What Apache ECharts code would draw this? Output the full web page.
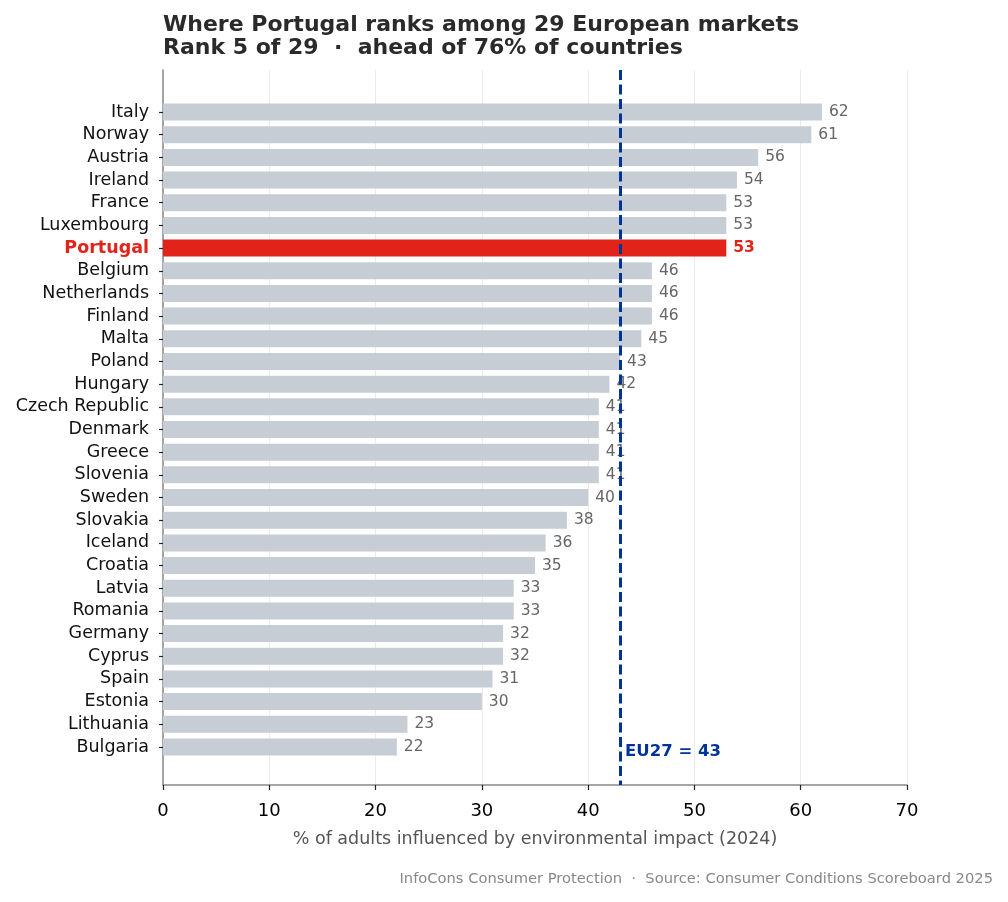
<!DOCTYPE html>
<html>
<head>
<meta charset="utf-8">
<script src="https://cdn.jsdelivr.net/npm/echarts@6/dist/echarts.min.js"></script>
<style>
html,body{margin:0;padding:0;background:#fff;}
#chart{width:1008px;height:902px;}
</style>
</head>
<body>
<div id="chart"></div>
<script>
const countries = ["Italy","Norway","Austria","Ireland","France","Luxembourg","Portugal","Belgium","Netherlands","Finland","Malta","Poland","Hungary","Czech Republic","Denmark","Greece","Slovenia","Sweden","Slovakia","Iceland","Croatia","Latvia","Romania","Germany","Cyprus","Spain","Estonia","Lithuania","Bulgaria"];
const values = [62,61,56,54,53,53,53,46,46,46,45,43,42,41,41,41,41,40,38,36,35,33,33,32,32,31,30,23,22];
const highlight = "Portugal";
const euAverage = 43;
const xTicks = [0,10,20,30,40,50,60,70];

const FONT = "DejaVu Sans";
const GREY_BAR = "#c6cdd5";
const RED = "#e2231a";
const BLUE = "#003399";

const chart = echarts.init(document.getElementById('chart'), null, {renderer:'canvas'});

const barData = values.map((v,i)=>({
  value: v,
  itemStyle: {color: countries[i]===highlight ? RED : GREY_BAR},
  label: countries[i]===highlight ? {color: RED, fontWeight:'bold'} : {}
}));

chart.setOption({
  backgroundColor:'#fff',
  animation:false,
  textStyle:{fontFamily:FONT},
  title:{
    text:"Where Portugal ranks among 29 European markets\nRank 5 of 29  ·  ahead of 76% of countries",
    left:158, top:9,
    textStyle:{fontFamily:FONT,fontSize:22,fontWeight:'bold',color:'#2a2a2a',lineHeight:23}
  },
  grid:[
    {left:163,right:101,top:70,bottom:117,containLabel:false},
    {left:163,right:101,top:100.7,bottom:143.7,containLabel:false}
  ],
  xAxis:[
    {gridIndex:0,type:'value',min:xTicks[0],max:xTicks[xTicks.length-1],interval:10,
     axisLine:{show:true,lineStyle:{color:'#888',width:1.5}},
     axisTick:{show:true,length:5,lineStyle:{color:'#222',width:1.2}},
     axisLabel:{fontFamily:FONT,fontSize:18,color:'#000',margin:17},
     splitLine:{show:true,lineStyle:{color:'#ebebeb',width:1}},
     name:"% of adults influenced by environmental impact (2024)",
     nameLocation:'middle',nameGap:45,
     nameTextStyle:{fontFamily:FONT,fontSize:17.5,color:'#555'}},
    {gridIndex:1,type:'value',min:0,max:70,show:false}
  ],
  yAxis:[
    {gridIndex:0,type:'value',min:0,max:1,
     axisLine:{show:true,lineStyle:{color:'#888',width:1.5}},
     axisTick:{show:false},axisLabel:{show:false},splitLine:{show:false}},
    {gridIndex:1,type:'category',data:countries,inverse:true,
     axisLine:{show:false},
     axisTick:{show:true,alignWithLabel:true,interval:0,length:4,lineStyle:{color:'#222',width:1.2}},
     axisLabel:{interval:0,fontFamily:FONT,fontSize:17.5,color:'#111',margin:14,
       formatter:(v)=> v===highlight ? '{h|'+v+'}' : v,
       rich:{h:{fontFamily:FONT,fontSize:17.5,color:RED,fontWeight:'bold'}}},
     splitLine:{show:false}}
  ],
  series:[
    {type:'bar',xAxisIndex:1,yAxisIndex:1,data:barData,barWidth:17,z:2,
     label:{show:true,position:'right',distance:7,fontFamily:FONT,fontSize:15.5,color:'#666'}},
    {type:'line',xAxisIndex:0,yAxisIndex:0,data:[],z:10,
     markLine:{symbol:'none',silent:true,
       lineStyle:{color:BLUE,width:3,type:[10,4.5]},
       label:{show:false},
       data:[[{coord:[euAverage,1]},{coord:[euAverage,0]}]]},
     markPoint:{symbol:'circle',symbolSize:0,silent:true,
       label:{show:true,position:'right',distance:5,formatter:'EU27 = '+euAverage,
         fontFamily:FONT,fontSize:16.5,fontWeight:'bold',color:BLUE},
       data:[{coord:[euAverage,0.046]}]}}
  ],
  graphic:[
    {type:'text',right:15,top:872,
     style:{text:"InfoCons Consumer Protection  ·  Source: Consumer Conditions Scoreboard 2025",
       font:'14.7px "DejaVu Sans"',fill:'#888'}}
  ]
});
</script>
</body>
</html>
